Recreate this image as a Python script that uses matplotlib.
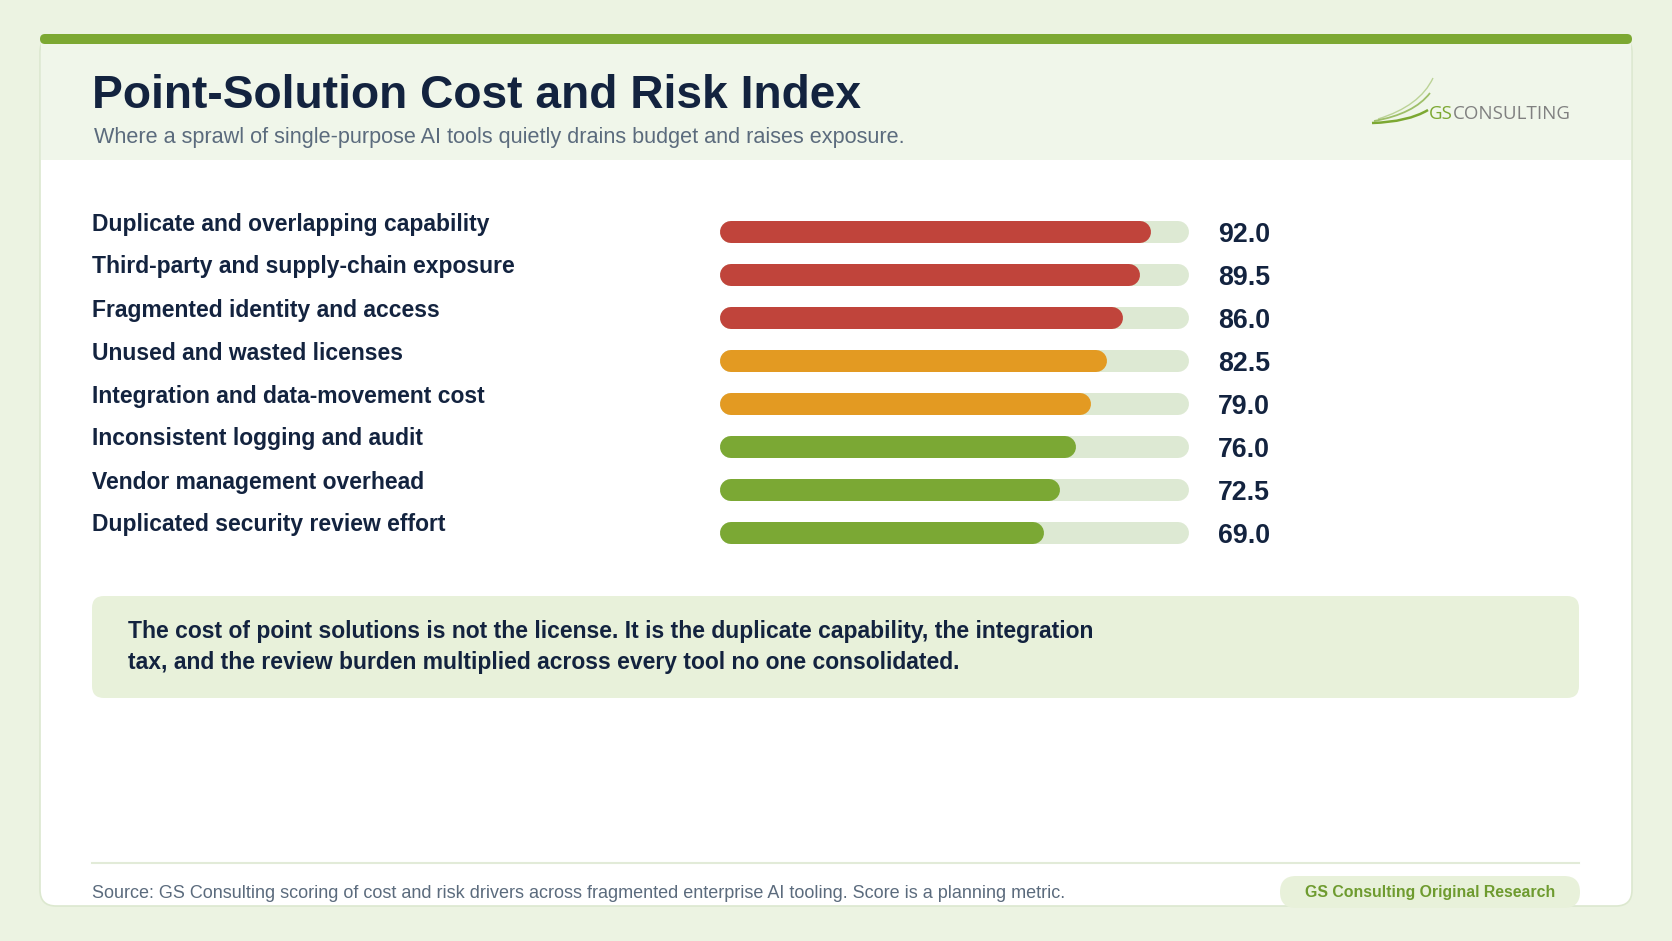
import matplotlib
matplotlib.use('Agg')
import matplotlib.pyplot as plt
import matplotlib.transforms as mtransforms
from matplotlib.patches import FancyBboxPatch, Rectangle, PathPatch
from matplotlib.path import Path

#chart data
drivers = [
    'Duplicate and overlapping capability',
    'Third-party and supply-chain exposure',
    'Fragmented identity and access',
    'Unused and wasted licenses',
    'Integration and data-movement cost',
    'Inconsistent logging and audit',
    'Vendor management overhead',
    'Duplicated security review effort',
]
scores = [92.0, 89.5, 86.0, 82.5, 79.0, 76.0, 72.5, 69.0]
score_max = 100

title = 'Point-Solution Cost and Risk Index'
subtitle = 'Where a sprawl of single-purpose AI tools quietly drains budget and raises exposure.'
callout = ('The cost of point solutions is not the license. It is the duplicate capability, the integration\n'
           'tax, and the review burden multiplied across every tool no one consolidated.')
source = ('Source: GS Consulting scoring of cost and risk drivers across fragmented enterprise AI tooling. '
          'Score is a planning metric.')
badge = 'GS Consulting Original Research'

#colours
NAVY = '#13233F'
GREY = '#5B6B7D'
RED = '#C0443B'
ORANGE = '#E39A22'
GREEN = '#7BA834'
TRACK = '#DDE9D3'

W, H = 1672, 941
fig = plt.figure(figsize=(W / 100, H / 100), dpi=100)
fig.patch.set_facecolor('#ECF3E2')

#background axes in pixel coordinates (y from top)
bg = fig.add_axes([0, 0, 1, 1])
bg.set_xlim(0, W)
bg.set_ylim(H, 0)
bg.axis('off')

card = FancyBboxPatch((40, 36), 1592, 870, boxstyle='round,pad=0,rounding_size=16',
                      facecolor='white', edgecolor='#DCE8CF', lw=1.2)
bg.add_patch(card)
bg.add_patch(Rectangle((41, 42), 1590, 118, facecolor='#F0F6EA', edgecolor='none'))
bg.add_patch(FancyBboxPatch((40, 34), 1592, 10, boxstyle='round,pad=0,rounding_size=5',
                            facecolor='#7CA832', edgecolor='none'))

bg.text(92, 108, title, fontsize=33.2, fontweight='bold', color=NAVY,
        family='Liberation Sans', va='baseline')
bg.text(94, 143, subtitle, fontsize=15.6, color=GREY, family='Liberation Sans', va='baseline')

#logo
for (p0, p1, p2, lw, a) in [((1372, 123), (1408, 122), (1428, 110), 1.8, 1.0),
                             ((1374, 121), (1414, 114), (1430, 93), 1.3, 0.7),
                             ((1378, 119), (1420, 106), (1433, 78), 1.0, 0.45)]:
    pth = Path([p0, p1, p2], [Path.MOVETO, Path.CURVE3, Path.CURVE3])
    bg.add_patch(PathPatch(pth, facecolor='none', edgecolor='#7CA832', lw=lw, alpha=a))
t_gs = bg.text(1429, 123, 'GS', fontsize=13.5, color='#7CA832', family='Open Sans', va='bottom')
bg.annotate('CONSULTING', xy=(1, 0), xycoords=t_gs, fontsize=13.5, color='#808080',
            family='Open Sans', va='bottom', ha='left')

#bar axes: x is the score scale, y is the row index
row_top, row_step = 231.5, 43
n = len(drivers)
y0_px = row_top - row_step / 2
y1_px = row_top + row_step * (n - 1) + row_step / 2
x0_px, x1_px = 720, 1189
ax = fig.add_axes([x0_px / W, 1 - y1_px / H, (x1_px - x0_px) / W, (y1_px - y0_px) / H])
ax.set_xlim(0, score_max)
ax.set_ylim(n - 0.5, -0.5)
ax.axis('off')

bar_px = 22
r = (bar_px / 2) / (x1_px - x0_px) * score_max  #cap radius in score units
lw_pt = bar_px * 72 / 100

def bar_colour(v):
    if v >= 85:
        return RED
    if v >= 78:
        return ORANGE
    return GREEN

for i, v in enumerate(scores):
    ax.plot([r, score_max - r], [i, i], color=TRACK, lw=lw_pt, solid_capstyle='round')
    ax.plot([r, v - r], [i, i], color=bar_colour(v), lw=lw_pt, solid_capstyle='round')

px = mtransforms.Affine2D().scale(1 / W, -1 / H).translate(0, 1) + fig.transFigure
lab_tr = mtransforms.offset_copy(mtransforms.blended_transform_factory(px, ax.transData),
                                 fig=fig, y=1, units='dots')
val_tr = mtransforms.offset_copy(mtransforms.blended_transform_factory(px, ax.transData),
                                 fig=fig, y=-10.5, units='dots')
for i, (name, v) in enumerate(zip(drivers, scores)):
    ax.text(92, i, name, transform=lab_tr, fontsize=16.5, fontweight='bold', color=NAVY,
            family='Liberation Sans', va='baseline', clip_on=False)
    ax.text(1218, i, f'{v:.1f}', transform=val_tr, fontsize=19.3, fontweight='bold', color=NAVY,
            family='Liberation Sans', va='baseline', clip_on=False)

#callout box
bg.add_patch(FancyBboxPatch((92, 596), 1487, 102, boxstyle='round,pad=0,rounding_size=12',
                            facecolor='#E8F1DA', edgecolor='none'))
bg.text(128, 647, callout, fontsize=16.5, fontweight='bold', color=NAVY, linespacing=1.45,
        family=['Liberation Sans Narrow', 'Liberation Sans'], va='center')

#footer
bg.plot([92, 1579], [863, 863], color='#E2EBD8', lw=1.5)
bg.text(92, 893, source, fontsize=13, color=GREY, family='Liberation Sans', va='center')
bg.add_patch(FancyBboxPatch((1280, 876), 300, 32, boxstyle='round,pad=0,rounding_size=16',
                            facecolor='#E8F1DA', edgecolor='none'))
bg.text(1430, 892, badge, fontsize=11.4, fontweight='bold', color='#6E9B2F',
        family='Liberation Sans', ha='center', va='center')

fig.savefig('out.png', dpi=100, facecolor=fig.get_facecolor())
